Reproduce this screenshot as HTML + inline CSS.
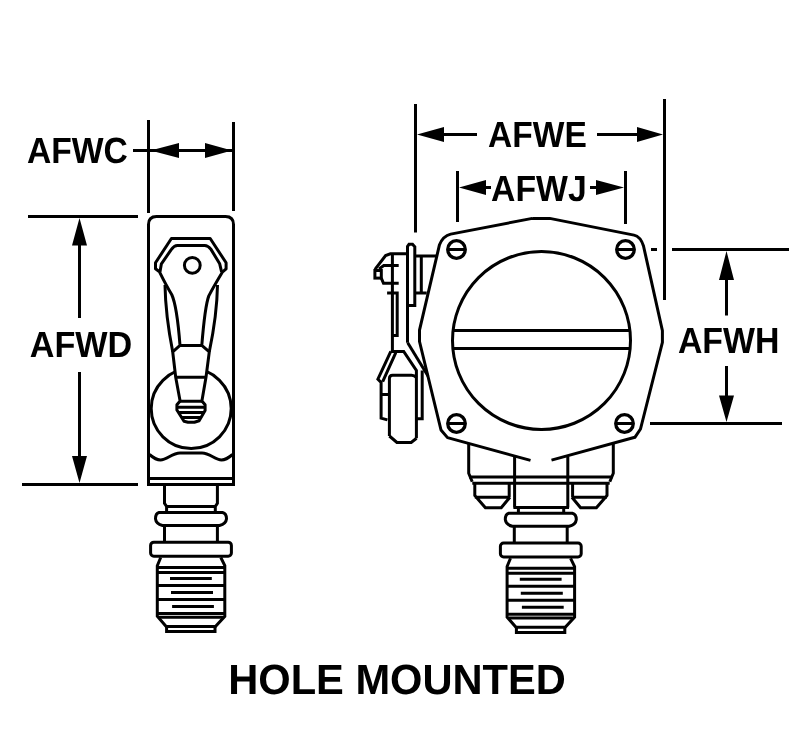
<!DOCTYPE html>
<html><head><meta charset="utf-8">
<style>
html,body{margin:0;padding:0;background:#fff;}
svg{display:block;}
text{font-family:"Liberation Sans",sans-serif;font-weight:bold;fill:#000;}
</style></head>
<body>
<svg width="804" height="756" viewBox="0 0 804 756">
<rect width="804" height="756" fill="#fff"/>
<g fill="none" stroke="#000" stroke-width="3" stroke-linejoin="miter" stroke-linecap="butt">
<path d="M148.5 120V213 M233.5 122V211 M133 150.5H232"/>
<path d="M28 216.5H138 M22 484.5H138 M79.5 244V318 M79.5 372V457"/>
<path d="M415.5 104V232.5 M664.5 99V300 M443 134.5H477 M597 134.5H638"/>
<path d="M457.5 171V222 M625.5 171V224 M485 187.5H491 M590 187.5H597"/>
<path d="M672 249.5H789 M651 249.5H657 M650 423.5H782 M726.5 278V315.5 M726.5 366V396"/>
</g>
<g fill="#000" stroke="none">
<path d="M150.5 150.5L179 143V158Z M232 150.5L205 143V158Z"/>
<path d="M79.5 218L72 245.5H87Z M79.5 483L72 456H87Z"/>
<path d="M417 134.5L444 127V142Z M663 134.5L637 127V142Z"/>
<path d="M459 187.5L486 180V195Z M624 187.5L596 180V195Z"/>
<path d="M726.5 251L719 280H734Z M726.5 422L719 395.5H734Z"/>
</g>

<!-- LEFT BODY -->
<g fill="none" stroke="#000" stroke-width="3" stroke-linejoin="round">
<path d="M148.5 486V224.5Q148.5 216.5 156.5 216.5H225.5Q233.5 216.5 233.5 224.5V486"/>
<path d="M147 484.5H235 M148.5 478.5H233.5"/>
<path d="M149.5 454.5C153.5 458 156.5 460 160.5 460C167 460 172 453 180 453H202C210 453 215 460 221.5 460C225.5 460 228.5 458 232.5 454.5"/>
<circle cx="191.2" cy="408.6" r="40"/>
<!-- lever -->
<path fill="#fff" d="M171.4 238.5H210.2L226.1 262.8V268.8L222.6 271.8 Q214 286 208.8 295.9 Q205 306 201.8 345.4 L209.3 351.8 L206 377.3 L201.9 401 L205.1 404.8V410.5L199.1 420.8L194.4 422.3H188L184 421.3L176.9 410V404.8L180.1 401 L175.7 377.3 L172.7 351.8 L180 345.4 Q177 306 171.7 294.5 Q166 285 159.5 271.8 L155.5 268.8V262.8Z"/>
<path d="M177.4 245.4H204.7Q208 245.4 211 249.4L219.7 263.8L221.6 271.8 M177.4 245.4Q174 245.4 171.4 249.4L161.4 263.8L160 271.8"/>
<path d="M165 285Q165.5 315 172.7 351.8 M217.5 285Q217 315 209.3 351.8 M180 345.4H201.8 M175.7 377.3H206"/>
<circle cx="192.3" cy="265.3" r="7.9"/>
<path d="M180 401.3H202 M177 407.3H205 M178.5 412.5H203.5 M181.5 417.6H200.5"/>
</g>

<!-- LEFT NECK -->
<g fill="none" stroke="#000" stroke-width="3">
<path d="M164.5 485V503.4L166.6 506.5V512 M217.4 485V503.4L215.3 506.5V512 M166.6 506.5H215.3"/>
</g>

<!-- RIGHT PLATE -->
<g fill="none" stroke="#000" stroke-width="3" stroke-linejoin="round">
<path d="M532.3 218.4H549.7L634 235.1Q640.5 236.5 643.5 246L662.4 330.7V342.3L640.5 429L634.9 437.3L551.5 460.1 M530.5 460.4L447.5 437.6L441 430L419.5 341.5V330.2L439.5 244.7Q443 236 450.7 234.1L532.3 218.4"/>
<circle cx="541.5" cy="340.5" r="89"/>
<path d="M453 330.5H630 M453 348.5H630"/>
<g stroke-width="3.3">
<circle cx="456.5" cy="249.5" r="8.8"/><circle cx="625.5" cy="249.5" r="8.8"/>
<circle cx="456.5" cy="423.5" r="8.8"/><circle cx="624.5" cy="423.5" r="8.8"/>
</g>
<path d="M448 249.5H465 M617 249.5H634 M448 423.5H465 M616 423.5H633"/>
<!-- housing -->
<path d="M468.7 444V473.3L472.2 481.8 M613.3 444V473.3L609.8 481.8"/>
<path d="M514.6 456.4V507.4 M567.8 456.4V507.4 M513.4 507.4H569"/>
<path d="M469 477H612.5 M472.3 483.3H609.7"/>
<path d="M474.8 483.9V495.6L485.4 507.8H501.2L509.9 497.2 M474.8 497.2H510 M509.2 483.9V497.2"/>
<path d="M607 483.9V495.6L596.4 507.8H580.6L571.9 497.2 M607 497.2H571.8 M572.6 483.9V497.2 M518.4 507.4V513 M563.7 507.4V513"/>
</g>

<!-- LATCH -->
<g fill="none" stroke="#000" stroke-width="3" stroke-linejoin="miter">
<path d="M407.5 342.7V246.5L409 244.3H412.5L414.8 246.8V305.5H407.5"/>
<path d="M407.6 253.8H390.4L385.6 255.6L375 269.3"/>
<rect x="374.9" y="270.5" width="6.4" height="7.6"/>
<path d="M381.3 278.1L383.5 283.3H398.7 M379 269L383.8 265.5H398.7"/>
<path d="M392.4 253.8V350.6 M387.1 293.1H397.2V335.6H393.8"/>
<path d="M415.4 256H437 M421.3 256V292.9 M415.4 292.9H426.7"/>
<path d="M407.7 342.7L428 376"/>
<path d="M390.8 351.4H403.7L416.4 370.5V438.3 M390.8 351.4L377.9 379.2L381.1 382.4V418.1L387.4 419.9 M395.8 352.6L382.7 381.6 M381.5 394.4H389.2"/>
<path d="M389.4 436V378.4Q389.4 375.2 392.6 375.2H411.7Q414.4 375.2 416.4 377.6 M389.4 436L396.9 442.5H411.2L416.5 438.3"/>
<path d="M422.2 370.5V418.7H416.5"/>
</g>
<!-- CONNECTOR -->
<g fill="none" stroke="#000" stroke-width="3">
<path d="M159 512.5H222.5Q226.5 513.5 226.5 518.8Q226 523.8 219.5 525.5H162.5Q156 523.8 155.5 518.8Q155.5 513.5 159 512.5Z"/>
<path d="M164.5 525V542.2 M217.4 525V542.2"/>
<rect x="150.6" y="542.2" width="80.8" height="14" rx="3.2"/>
<path d="M160.7 557.5L157.3 565.7V616.3L166.6 627 M220.8 557.5L224.8 565.7V616.3L215 627"/>
<path d="M157.3 567.5H224.8 M157.3 572.5H224.8 M157.3 585.4H224.8 M157.3 599.4H224.8 M157.3 613.5H224.8 M159 617.2H223"/>
<path d="M170 578.4H211.8 M171 592.4H213 M172.1 606.5H213.9" stroke-width="3"/>
<path d="M166.6 625.5V631.6H215V625.5 M166.6 626.4H215"/>
</g>
<g transform="translate(349.8,0.8)" fill="none" stroke="#000" stroke-width="3">
<path d="M159 512.5H222.5Q226.5 513.5 226.5 518.8Q226 523.8 219.5 525.5H162.5Q156 523.8 155.5 518.8Q155.5 513.5 159 512.5Z"/>
<path d="M164.5 525V542.2 M217.4 525V542.2"/>
<rect x="150.6" y="542.2" width="80.8" height="14" rx="3.2"/>
<path d="M160.7 557.5L157.3 565.7V616.3L166.6 627 M220.8 557.5L224.8 565.7V616.3L215 627"/>
<path d="M157.3 567.5H224.8 M157.3 572.5H224.8 M157.3 585.4H224.8 M157.3 599.4H224.8 M157.3 613.5H224.8 M159 617.2H223"/>
<path d="M170 578.4H211.8 M171 592.4H213 M172.1 606.5H213.9" stroke-width="3"/>
<path d="M166.6 625.5V631.6H215V625.5 M166.6 626.4H215"/>
</g>
<g text-rendering="geometricPrecision" style="will-change:transform">
<text x="27.04" y="163.00" font-size="36.50" textLength="100.87" lengthAdjust="spacingAndGlyphs">AFWC</text>
<text x="29.75" y="357.00" font-size="36.50" textLength="102.49" lengthAdjust="spacingAndGlyphs">AFWD</text>
<text x="488.04" y="147.00" font-size="36.50" textLength="98.79" lengthAdjust="spacingAndGlyphs">AFWE</text>
<text x="491.04" y="201.00" font-size="36.50" textLength="95.64" lengthAdjust="spacingAndGlyphs">AFWJ</text>
<text x="677.91" y="353.00" font-size="36.50" textLength="101.51" lengthAdjust="spacingAndGlyphs">AFWH</text>
<text x="228.21" y="694.00" font-size="42.20" textLength="337.70" lengthAdjust="spacingAndGlyphs">HOLE MOUNTED</text>
</g>
</svg>
</body></html>
